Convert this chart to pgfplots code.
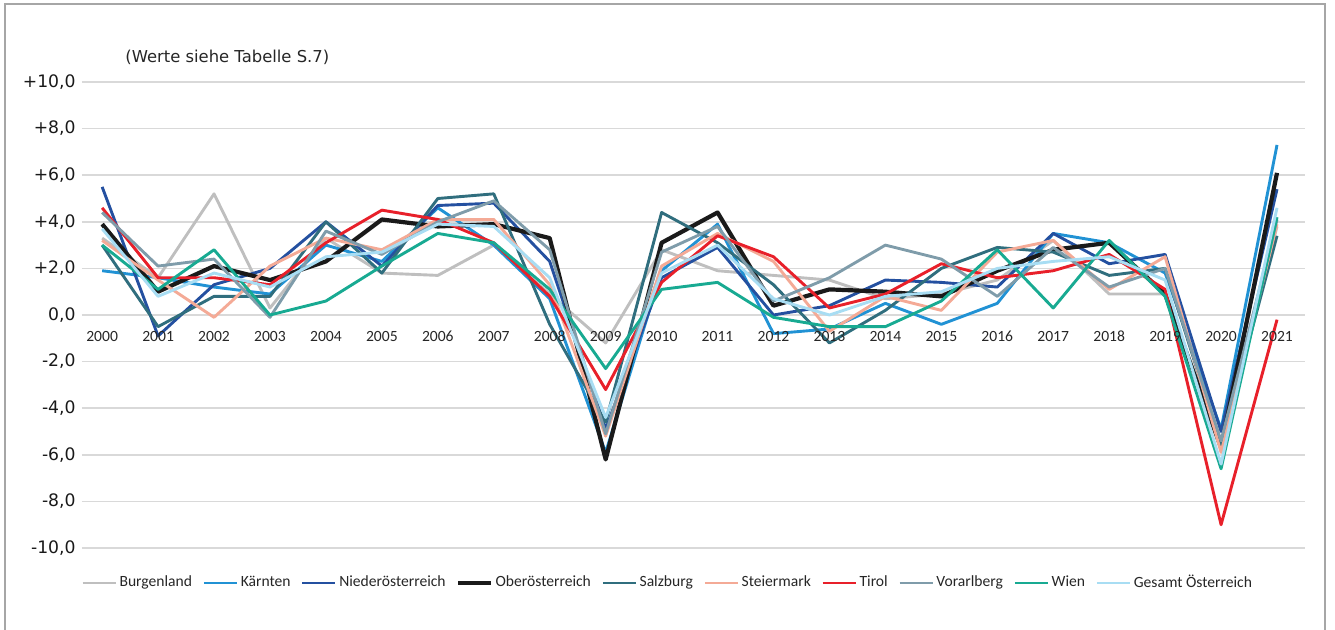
\documentclass[border=0pt]{standalone}
\usepackage{pgfplots}
\usepackage{pgfplotstable}
\pgfplotsset{compat=1.18}
\usepackage{fontspec}
\setmainfont{DejaVu Sans}
\newfontfamily\carlito{Carlito}
\definecolor{cBgld}{HTML}{BFBFBF}
\definecolor{cKtn}{HTML}{2192D4}
\definecolor{cNoe}{HTML}{2450A0}
\definecolor{cOoe}{HTML}{1A1A1A}
\definecolor{cSbg}{HTML}{306E7E}
\definecolor{cStmk}{HTML}{F4AA96}
\definecolor{cTirol}{HTML}{E8202A}
\definecolor{cVbg}{HTML}{7F9CAA}
\definecolor{cWien}{HTML}{18AA92}
\definecolor{cGes}{HTML}{A8DDF3}
\definecolor{cGrid}{HTML}{D9D9D9}
\definecolor{cFrame}{HTML}{A6A6A6}

\pgfplotstableread{
year Bgld Ktn Noe Ooe Sbg Stmk Tirol Vbg Wien Ges
2000 3.3 1.9 5.5 3.9 3.0 3.2 4.6 4.4 3.0 3.7
2001 1.6 1.6 -0.9 1.0 -0.5 1.5 1.6 2.1 1.1 0.8
2002 5.2 1.2 1.3 2.1 0.8 -0.1 1.6 2.4 2.8 1.8
2003 0.3 0.9 2.0 1.5 0.8 2.1 1.3 -0.1 0.0 1.2
2004 3.3 3.0 4.0 2.3 4.0 3.3 3.1 3.6 0.6 2.5
2005 1.8 2.3 2.1 4.1 1.8 2.8 4.5 2.6 2.1 2.7
2006 1.7 4.6 4.7 3.8 5.0 4.1 4.1 4.0 3.5 3.9
2007 3.0 3.0 4.8 3.9 5.2 4.1 3.1 4.9 3.1 3.8
2008 0.9 0.7 2.3 3.3 -0.4 1.3 0.8 2.8 1.1 1.6
2009 -1.2 -5.9 -4.9 -6.2 -4.6 -5.2 -3.2 -5.1 -2.3 -4.4
2010 2.8 1.9 1.6 3.1 4.4 2.1 1.4 2.7 1.1 1.8
2011 1.9 3.9 2.9 4.4 3.1 3.5 3.4 3.8 1.4 3.0
2012 1.7 -0.8 0.0 0.4 1.3 2.3 2.5 0.6 -0.1 0.7
2013 1.5 -0.6 0.4 1.1 -1.2 -0.7 0.3 1.6 -0.5 0.0
2014 0.7 0.5 1.5 1.0 0.2 0.8 0.9 3.0 -0.5 0.8
2015 0.9 -0.4 1.4 0.8 2.0 0.2 2.2 2.4 0.6 1.0
2016 1.5 0.5 1.2 1.9 2.9 2.7 1.6 0.8 2.8 2.0
2017 3.2 3.5 3.5 2.8 2.7 3.2 1.9 2.9 0.3 2.3
2018 0.9 3.1 2.2 3.1 1.7 1.1 2.6 1.2 3.2 2.5
2019 0.9 1.8 2.6 0.9 2.0 2.5 1.1 2.0 0.8 1.5
2020 -5.5 -4.9 -5.0 -5.7 -5.6 -5.9 -9.0 -5.4 -6.6 -6.4
2021 3.8 7.3 5.4 6.1 3.4 3.9 -0.2 4.1 4.2 4.6
}\data

\begin{document}
\begin{tikzpicture}
\useasboundingbox (0pt,0pt) rectangle (667.5pt,314.5pt);
\draw[cFrame, line width=0.7pt] (2.5pt,-2pt) -- (2.5pt,312.5pt) -- (662.5pt,312.5pt) -- (662.5pt,-2pt);
\node[anchor=west, inner sep=0pt, font=\fontsize{8.2}{10}\selectfont, text=black!85] at (62.5pt,286pt) {(Werte siehe Tabelle S.7)};
\begin{axis}[
  at={(41pt,40.5pt)}, anchor=south west,
  scale only axis, width=611.5pt, height=233pt,
  xmin=1999.64, xmax=2021.5, ymin=-10, ymax=10,
  axis line style={draw=none},
  xtick=\empty,
  ytick={-10,-8,...,10},
  yticklabels={{-10,0},{-8,0},{-6,0},{-4,0},{-2,0},{0,0},{+2,0},{+4,0},{+6,0},{+8,0},{+10,0}},
  yticklabel style={anchor=east, inner sep=0pt, xshift=-3pt, font=\fontsize{8.6}{10}\selectfont, text=black!90},
  major tick length=0pt,
  ymajorgrids,
  major grid style={cGrid, line width=0.75pt},
  every axis plot/.append style={line width=1.45pt, line join=round, mark=none},
  legend columns=10,
  legend style={at={(rel axis cs:0.479,-0.075)}, anchor=center, draw=none, fill=none,
    font=\carlito\fontsize{7.8}{9}\selectfont, text=black!85,
    /tikz/every even column/.append style={column sep=4pt},
    nodes={inner sep=1.2pt}},
  legend image code/.code={\draw[#1] (0pt,0pt) -- (16.5pt,0pt);},
  clip=false,
]
\addplot[cBgld] table[x=year,y=Bgld]{\data};
\addlegendentry{Burgenland}
\addplot[cKtn] table[x=year,y=Ktn]{\data};
\addlegendentry{Kärnten}
\addplot[cNoe] table[x=year,y=Noe]{\data};
\addlegendentry{Niederösterreich}
\addplot[cOoe, line width=2.1pt] table[x=year,y=Ooe]{\data};
\addlegendentry{Oberösterreich}
\addplot[cSbg] table[x=year,y=Sbg]{\data};
\addlegendentry{Salzburg}
\addplot[cStmk] table[x=year,y=Stmk]{\data};
\addlegendentry{Steiermark}
\addplot[cTirol] table[x=year,y=Tirol]{\data};
\addlegendentry{Tirol}
\addplot[cVbg] table[x=year,y=Vbg]{\data};
\addlegendentry{Vorarlberg}
\addplot[cWien] table[x=year,y=Wien]{\data};
\addlegendentry{Wien}
\addplot[cGes] table[x=year,y=Ges]{\data};
\addlegendentry{Gesamt Österreich}
\pgfplotsinvokeforeach{2000,...,2021}{
  \node[anchor=center, inner sep=0pt, yshift=-10.5pt, font=\carlito\fontsize{7.8}{9}\selectfont, text=black!85] at (axis cs:#1,0) {#1};
}
\end{axis}
\end{tikzpicture}
\end{document}
